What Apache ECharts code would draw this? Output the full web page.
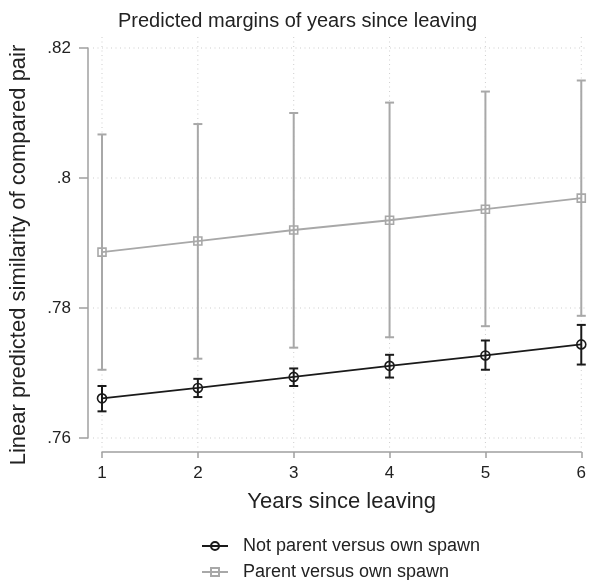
<!DOCTYPE html>
<html>
<head>
<meta charset="utf-8">
<script src="https://cdn.jsdelivr.net/npm/echarts@6/dist/echarts.min.js"></script>
<style>html,body{margin:0;padding:0;background:#fff;}#c{width:589px;height:580px;}</style>
</head>
<body>
<div id="c"></div>
<script>
var years = [1, 2, 3, 4, 5, 6];
var yTicks = [0.76, 0.78, 0.80, 0.82];
var seriesNames = ['Not parent versus own spawn', 'Parent versus own spawn'];
var notParentMean = [0.7661, 0.7677, 0.7694, 0.7711, 0.7727, 0.7744];
var notParentLow  = [0.7641, 0.7663, 0.7680, 0.7693, 0.7705, 0.7713];
var notParentHigh = [0.7680, 0.7691, 0.7707, 0.7728, 0.7750, 0.7774];
var parentMean = [0.7886, 0.7903, 0.7920, 0.7935, 0.7952, 0.7969];
var parentLow  = [0.7705, 0.7722, 0.7739, 0.7755, 0.7772, 0.7788];
var parentHigh = [0.8067, 0.8083, 0.8100, 0.8116, 0.8133, 0.8150];

var black = '#1a1a1a', gray = '#a8a8a8', gridCol = '#cdcdcd';
var font = '"Liberation Sans", Arial, sans-serif';

function pairs(m){ return years.map(function(x,i){ return [x, m[i]]; }); }
function ciData(lo, hi){ return years.map(function(x,i){ return [x, lo[i], hi[i]]; }); }
function errRender(color){
  return function(params, api){
    var x = api.value(0);
    var p1 = api.coord([x, api.value(1)]);
    var p2 = api.coord([x, api.value(2)]);
    var hw = 4.5;
    var st = {stroke: color, lineWidth: 2};
    return {type:'group', children:[
      {type:'line', shape:{x1:p1[0],y1:p1[1],x2:p2[0],y2:p2[1]}, style:st},
      {type:'line', shape:{x1:p1[0]-hw,y1:p1[1],x2:p1[0]+hw,y2:p1[1]}, style:st},
      {type:'line', shape:{x1:p2[0]-hw,y1:p2[1],x2:p2[0]+hw,y2:p2[1]}, style:st}
    ]};
  };
}
var gridStyle = {stroke: gridCol, lineWidth: 1, lineDash: [1, 3.5]};
function vGridRender(params, api){
  var x = api.value(0);
  var top = api.coord([x, yTicks[yTicks.length-1]]);
  var bot = api.coord([x, yTicks[0]]);
  return {type:'line', shape:{x1:top[0], y1:top[1]-11, x2:bot[0], y2:bot[1]+10}, style: gridStyle};
}
function hGridRender(params, api){
  var y = api.value(0);
  var l = api.coord([years[0], y]);
  var r = api.coord([years[years.length-1], y]);
  return {type:'line', shape:{x1:l[0]-9, y1:l[1], x2:r[0]+4, y2:r[1]}, style: gridStyle};
}
function legendFor(name, top){
  return {
    data: [name], orient: 'horizontal', left: 196, top: top,
    itemWidth: 26, itemHeight: 10,
    textStyle: {fontFamily: font, fontSize: 18, color: '#222', padding: [0,0,0,10]}
  };
}

var chart = echarts.init(document.getElementById('c'), null, {renderer:'canvas'});
chart.setOption({
  animation: false,
  backgroundColor: '#fff',
  textStyle: {fontFamily: font},
  title: {
    text: 'Predicted margins of years since leaving',
    left: 113, top: 6,
    textStyle: {fontFamily: font, fontSize: 20, fontWeight: 'normal', color: '#222'}
  },
  legend: [legendFor(seriesNames[0], 532), legendFor(seriesNames[1], 558)],
  grid: {left: 101, right: 3.5, top: 48, bottom: 142},
  xAxis: {
    type: 'value', min: 1, max: 6, interval: 1, offset: 14,
    name: 'Years since leaving', nameLocation: 'middle', nameGap: 39,
    nameTextStyle: {fontFamily: font, fontSize: 22, color: '#222'},
    axisLine: {show: true, lineStyle: {color: '#a0a0a0', width: 1.5}},
    axisTick: {show: true, length: 6, lineStyle: {color: '#a0a0a0', width: 1.5}},
    axisLabel: {fontFamily: font, fontSize: 17, color: '#222', margin: 13, showMaxLabel: true},
    splitLine: {show: false}
  },
  yAxis: {
    type: 'value', min: 0.76, max: 0.82, interval: 0.02, offset: 14,
    name: 'Linear predicted similarity of compared pair', nameLocation: 'middle', nameGap: 58,
    nameTextStyle: {fontFamily: font, fontSize: 22, color: '#222', padding: [0, 24, 0, 0]},
    axisLine: {show: true, lineStyle: {color: '#a0a0a0', width: 1.5}},
    axisTick: {show: true, length: 9, lineStyle: {color: '#a0a0a0', width: 1.5}},
    axisLabel: {fontFamily: font, fontSize: 17, color: '#222', margin: 17,
      formatter: function(v){ return String(Number(v.toFixed(2))).replace(/^0/, ''); }},
    splitLine: {show: false}
  },
  series: [
    {type:'custom', name:'vgrid', data: years.map(function(x){ return [x]; }), renderItem: vGridRender, clip: false, z: 1, silent: true,
      encode: {x: 0}},
    {type:'custom', name:'hgrid', data: yTicks.map(function(y){ return [y]; }), renderItem: hGridRender, clip: false, z: 1, silent: true,
      encode: {y: 0}},
    {type:'custom', name:'ciParent', data: ciData(parentLow, parentHigh), renderItem: errRender(gray), z: 2, silent: true},
    {type:'custom', name:'ciNotParent', data: ciData(notParentLow, notParentHigh), renderItem: errRender(black), z: 2, silent: true},
    {type:'line', name: seriesNames[0], data: pairs(notParentMean), symbol:'circle', symbolSize: 9,
      lineStyle:{color: black, width: 1.8}, itemStyle:{color:'transparent', borderColor: black, borderWidth: 1.6}, z: 3},
    {type:'line', name: seriesNames[1], data: pairs(parentMean), symbol:'rect', symbolSize: 8,
      lineStyle:{color: gray, width: 1.8}, itemStyle:{color:'transparent', borderColor: gray, borderWidth: 1.6}, z: 3}
  ]
});
</script>
</body>
</html>
